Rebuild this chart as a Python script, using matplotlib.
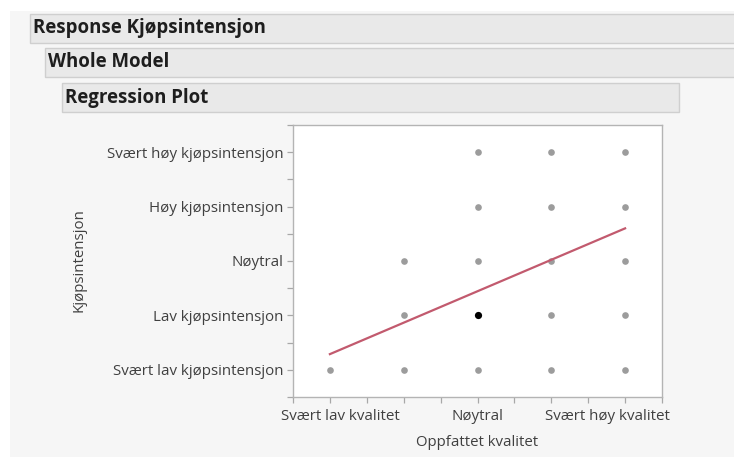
import matplotlib
matplotlib.use("Agg")
import matplotlib.pyplot as plt
from matplotlib.patches import Rectangle
from matplotlib.transforms import ScaledTranslation
import numpy as np

plt.rcParams['font.family'] = ['Open Sans', 'DejaVu Sans']

# Ordinal scales (1..5)
y_labels = ["Svært lav kjøpsintensjon", "Lav kjøpsintensjon", "Nøytral",
            "Høy kjøpsintensjon", "Svært høy kjøpsintensjon"]
x_tick_pos = [1, 3, 5]
x_tick_labels = ["Svært lav kvalitet", "Nøytral", "Svært høy kvalitet"]

# Observed (quality, purchase intention) combinations
quality = [1, 2, 3, 4, 5,
           2, 4, 5,
           2, 3, 4, 5,
           3, 4, 5,
           3, 4, 5]
intention = [1, 1, 1, 1, 1,
             2, 2, 2,
             3, 3, 3, 3,
             4, 4, 4,
             5, 5, 5]
selected_quality = [3]
selected_intention = [2]

# Fitted regression line
fit_intercept = 0.71
fit_slope = 0.578
fit_x = [1, 5]

W, H = 734, 457
fig = plt.figure(figsize=(W / 100, H / 100), dpi=100, facecolor="#f6f6f6")


def px_rect(x0, y0, x1, y1, **kw):
    fig.patches.append(Rectangle((x0 / W, 1 - y1 / H), (x1 - x0) / W, (y1 - y0) / H,
                                 transform=fig.transFigure, figure=fig, **kw))


# white margin strips
px_rect(0, 0, W, 11, facecolor="white", edgecolor="none")
px_rect(0, 0, 10, H, facecolor="white", edgecolor="none")

# report outline headers
headers = [
    ("Response Kjøpsintensjon", 30, 14, 740, 43),
    ("Whole Model", 45, 48, 740, 77),
    ("Regression Plot", 62, 83, 679, 112),
]
for text, x0, y0, x1, y1 in headers:
    px_rect(x0, y0, x1, y1, facecolor="#e9e9e9", edgecolor="#cfcfcf", linewidth=1.0)
    fig.text((x0 + 3) / W, 1 - (y0 + y1) / 2 / H, text, fontsize=13.4,
             fontweight="bold", color="#1e1e1e", ha="left", va="center")

# plot frame
left, right, top, bottom = 293, 662, 125, 397
ax = fig.add_axes([left / W, 1 - bottom / H, (right - left) / W, (bottom - top) / H])
ax.set_facecolor("white")
ax.set_xlim(0.5, 5.5)
ax.set_ylim(0.5, 5.5)
for s in ax.spines.values():
    s.set_color("#b4b4b4")
    s.set_linewidth(1.0)

ax.plot(quality, intention, "o", color="#9c9c9c", markersize=4.8,
        markeredgewidth=0, zorder=2)
ax.plot(selected_quality, selected_intention, "o", color="black", markersize=5.2,
        markeredgewidth=0, zorder=4)

fx = np.array(fit_x, dtype=float)
ax.plot(fx, fit_intercept + fit_slope * fx, color="#c25a6e", linewidth=1.6, zorder=3)

ax.set_yticks(range(1, 6))
ax.set_yticklabels(y_labels)
ax.set_yticks(np.arange(0.5, 5.6, 0.5), minor=True)
ax.set_xticks(x_tick_pos)
ax.set_xticklabels(x_tick_labels)
ax.set_xticks(np.arange(0.5, 5.6, 0.5), minor=True)
ax.tick_params(which="both", direction="out", length=4, width=0.9, color="#a8a8a8",
               labelsize=10.9, labelcolor="#404040", pad=3)
ax.tick_params(axis="x", pad=5)

# keep the outer x labels inside the frame extent
shifts = [10, 0, -18]
for lab, dx in zip(ax.get_xticklabels(), shifts):
    lab.set_transform(lab.get_transform() + ScaledTranslation(dx / 100, 0, fig.dpi_scale_trans))

fig.text(477 / W, 1 - 442 / H, "Oppfattet kvalitet", fontsize=10.8, color="#404040",
         ha="center", va="center")
fig.text(79 / W, 1 - 260 / H, "Kjøpsintensjon", fontsize=10.8, color="#404040",
         ha="center", va="center", rotation=90)

fig.savefig("out.png", dpi=100, facecolor=fig.get_facecolor())
